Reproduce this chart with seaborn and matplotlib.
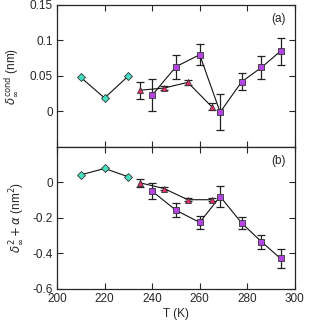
import matplotlib
matplotlib.use('Agg')
import matplotlib.pyplot as plt
import matplotlib.ticker as mticker
import pandas as pd
import seaborn as sns

# panel (a): delta_inf^cond
T_dia = [210, 220, 230]
a_dia = [0.048, 0.019, 0.050]

T_tri = [235, 245, 255, 265]
a_tri = [0.030, 0.033, 0.041, 0.007]
a_tri_err = [0.012, 0.003, 0.003, 0.005]

T_sq = [240, 250, 260, 268.6, 277.7, 286, 294]
a_sq = [0.023, 0.063, 0.080, -0.001, 0.042, 0.062, 0.085]
a_sq_err = [0.023, 0.017, 0.015, 0.025, 0.012, 0.016, 0.019]

# panel (b): delta_inf^2 + alpha
b_dia = [0.043, 0.079, 0.032]
b_tri = [-0.002, -0.034, -0.097, -0.097]
b_tri_err = [0.024, 0.006, 0.008, 0.010]
b_sq = [-0.049, -0.156, -0.225, -0.079, -0.229, -0.334, -0.428]
b_sq_err = [0.045, 0.040, 0.037, 0.060, 0.032, 0.041, 0.051]

c_dia = '#44e0c4'
c_tri = '#e8306c'
c_sq = '#b444e4'

sns.set_style('ticks')
plt.rcParams['font.family'] = ['Liberation Sans', 'DejaVu Sans']
plt.rcParams['mathtext.fontset'] = 'dejavusans'
plt.rcParams['font.size'] = 8.5

fig = plt.figure(figsize=(3.09, 3.22), dpi=100)
ax1 = fig.add_axes([0.1845, 0.5435, 0.7695, 0.441])
ax2 = fig.add_axes([0.1845, 0.1025, 0.7695, 0.441])


def draw(ax, dia, tri, tri_err, sq, sq_err):
    ax.errorbar(T_tri, tri, yerr=tri_err, fmt='none', ecolor='#222222',
                elinewidth=0.9, capsize=3, capthick=0.9, zorder=2)
    ax.errorbar(T_sq, sq, yerr=sq_err, fmt='none', ecolor='#222222',
                elinewidth=0.9, capsize=3, capthick=0.9, zorder=2)
    for x, y, m, c, s in [(T_dia, dia, 'D', c_dia, 4),
                          (T_tri, tri, '^', c_tri, 4.8),
                          (T_sq, sq, 's', c_sq, 4.3)]:
        d = pd.DataFrame({'T': x, 'v': y})
        sns.lineplot(data=d, x='T', y='v', ax=ax, color='#111111', lw=0.8,
                     sort=False, zorder=3)
        ax.plot(x, y, ls='none', marker=m, ms=s, mfc=c, mec='#333333',
                mew=0.6, zorder=4)
    ax.set_xlim(200, 300)
    ax.set_xticks([200, 220, 240, 260, 280, 300])
    ax.tick_params(direction='in', top=True, right=True, length=4,
                   width=0.8, labelsize=8.5, pad=3)
    for s in ax.spines.values():
        s.set_linewidth(0.9)
    ax.yaxis.set_major_formatter(mticker.FuncFormatter(lambda v, p: '%g' % v))


draw(ax1, a_dia, a_tri, a_tri_err, a_sq, a_sq_err)
ax1.set_ylim(-0.05, 0.15)
ax1.set_yticks([0, 0.05, 0.1, 0.15])
ax1.tick_params(labelbottom=False)
ax1.set_xlabel('')
ax1.set_ylabel(r'$\delta_\infty^{\rm cond}$ (nm)', labelpad=6)
ax1.text(0.93, 0.9, '(a)', transform=ax1.transAxes, ha='center', va='center')

draw(ax2, b_dia, b_tri, b_tri_err, b_sq, b_sq_err)
ax2.set_ylim(-0.6, 0.2)
ax2.set_yticks([-0.6, -0.4, -0.2, 0])
ax2.set_xlabel('T (K)', labelpad=2)
ax2.set_ylabel(r'$\delta_\infty^2 + \alpha$ (nm$^2$)', labelpad=4)
ax2.text(0.93, 0.9, '(b)', transform=ax2.transAxes, ha='center', va='center')

fig.savefig('out.png', dpi=100)
